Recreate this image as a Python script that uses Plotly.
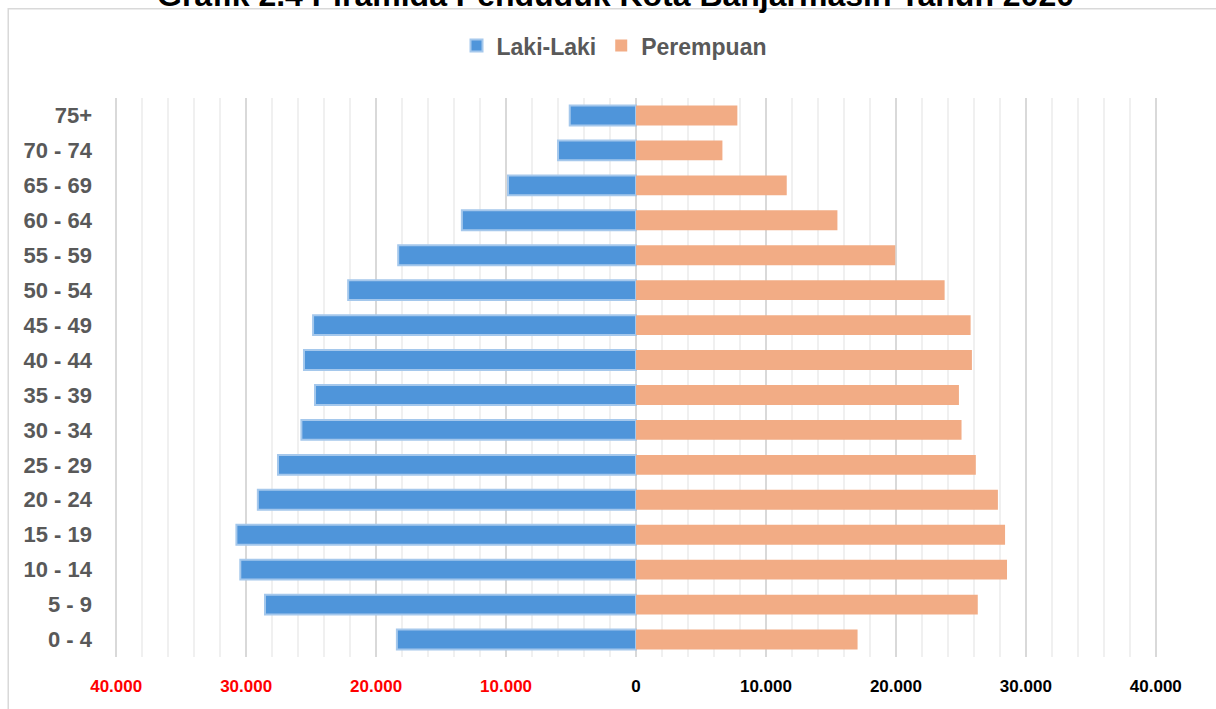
import plotly.graph_objects as go

age_groups = ["0 - 4", "5 - 9", "10 - 14", "15 - 19", "20 - 24", "25 - 29", "30 - 34",
              "35 - 39", "40 - 44", "45 - 49", "50 - 54", "55 - 59", "60 - 64",
              "65 - 69", "70 - 74", "75+"]
laki_laki = [18400, 28550, 30450, 30750, 29100, 27550, 25750, 24700, 25550, 24850,
             22150, 18300, 13400, 9850, 6000, 5100]
perempuan = [17050, 26300, 28550, 28400, 27850, 26150, 25050, 24850, 25850, 25750,
             23750, 19950, 15500, 11600, 6650, 7800]
tick_values = [-40000, -30000, -20000, -10000, 0, 10000, 20000, 30000, 40000]
tick_labels = ["40.000", "30.000", "20.000", "10.000", "0", "10.000", "20.000", "30.000", "40.000"]

W, H = 1216, 709
XR = 40400
scale = 1040 / 80000
ML = 636 - XR * scale
MR = W - (636 + XR * scale)
MT, MB = 97.5, 51.5
pw, ph = W - ML - MR, H - MT - MB

def px_x(p):
    return (p - ML) / pw

def px_y(p):
    return (H - MB - p) / ph

ticktext = []
for v, t in zip(tick_values, tick_labels):
    col = "#FF0000" if v < 0 else "#000000"
    ticktext.append(f"<span style='color:{col}'><b>{t}</b></span>")

fig = go.Figure()
fig.add_trace(go.Bar(
    y=age_groups, x=[-v for v in laki_laki], orientation="h", name="<b>Laki-Laki</b>",
    marker=dict(color="#4F95DA", line=dict(color="#A5C8EC", width=2)),
))
fig.add_trace(go.Bar(
    y=age_groups, x=perempuan, orientation="h", name="<b>Perempuan</b>",
    marker=dict(color="#F2AC85", line=dict(color="#F2AC85", width=0)),
))

fig.update_layout(
    width=W, height=H,
    margin=dict(l=ML, r=MR, t=MT, b=MB, autoexpand=False),
    barmode="relative", bargap=0.43,
    plot_bgcolor="white", paper_bgcolor="white",
    font=dict(family="Liberation Sans, Arial, sans-serif"),
    legend=dict(orientation="h", x=px_x(614), xanchor="center", y=px_y(45), yanchor="middle",
                font=dict(size=23, color="#595959"), traceorder="normal",
                itemwidth=30, bgcolor="rgba(0,0,0,0)"),
    showlegend=True,
)
fig.add_annotation(text="<b>Grafik 2.4 Piramida Penduduk Kota Banjarmasin Tahun 2020</b>",
                   xref="paper", yref="paper", x=px_x(615), y=px_y(-6), xanchor="center",
                   yanchor="middle", showarrow=False, font=dict(size=32, color="#000000"))
fig.update_xaxes(
    range=[-XR, XR], tickvals=tick_values, ticktext=ticktext,
    showgrid=True, gridcolor="#D9D9D9", gridwidth=1.5,
    zeroline=True, zerolinecolor="#D9D9D9", zerolinewidth=1.5,
    minor=dict(dtick=2000, tick0=0, showgrid=True, gridcolor="#F0F0F0", gridwidth=1.5),
    tickfont=dict(size=17), ticks="", ticklabelstandoff=17, fixedrange=True,
    showline=False,
)
fig.update_yaxes(
    categoryorder="array", categoryarray=age_groups, range=[-0.5, 15.5],
    tickfont=dict(size=22, color="#595959"), ticks="", ticklabelstandoff=18,
    showgrid=False, showline=False,
)
fig.update_yaxes(tickvals=age_groups, ticktext=[f"<b>{a}</b>" for a in age_groups])

fig.add_shape(type="rect", xref="paper", yref="paper",
              x0=px_x(8), x1=px_x(1230), y0=px_y(8), y1=px_y(730),
              line=dict(color="#D9D9D9", width=1.5), fillcolor="rgba(0,0,0,0)", layer="below")

fig.write_html("out.html", config={"displayModeBar": False},
               post_script="document.body.style.margin='0';")
